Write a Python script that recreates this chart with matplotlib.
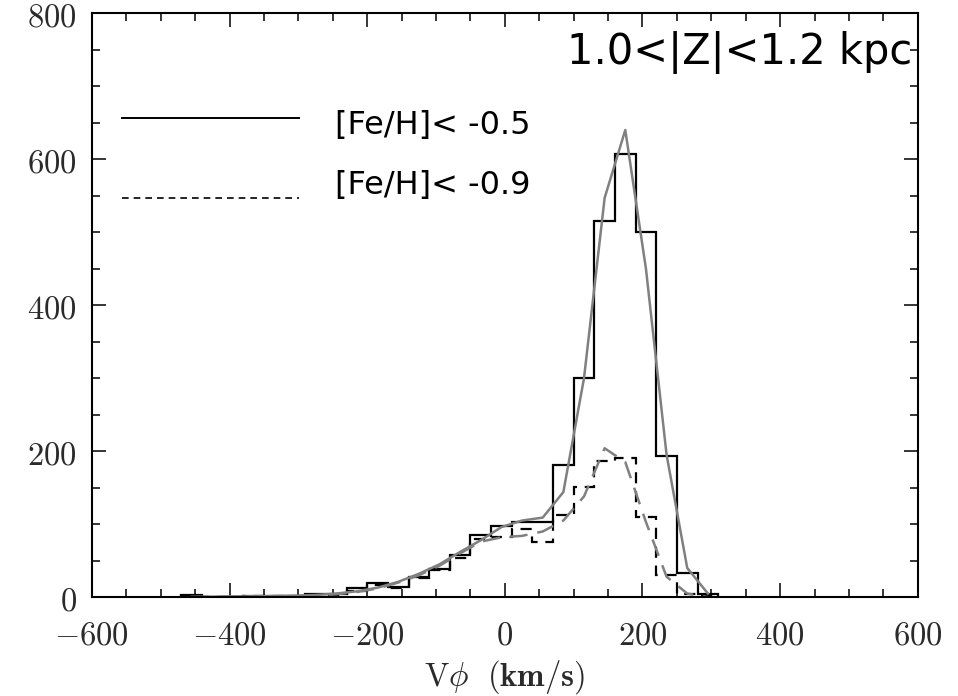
import numpy as np
import matplotlib.pyplot as plt
from matplotlib.ticker import MultipleLocator, FuncFormatter

plt.rcParams['mathtext.fontset'] = 'cm'

# bin edges of the V_phi histograms (km/s)
bin_edges = [-470, -440, -410, -380, -350, -320, -290, -260, -230, -200,
             -170, -140, -110, -80, -50, -20, 10, 40, 70, 100,
             130, 160, 190, 220, 250, 280, 310]
# counts, [Fe/H] < -0.5
counts_05 = [3, 0, 0, 1, 1, 2, 4, 4, 12, 20,
             14, 28, 39, 58, 85, 97, 103, 103, 181, 300,
             516, 607, 500, 193, 33, 5]
# counts, [Fe/H] < -0.9
counts_09 = [2, 0, 0, 1, 1, 1, 3, 3, 9, 17,
             13, 26, 37, 54, 80, 83, 94, 75, 113, 151,
             186, 190, 110, 30, 5, 1]

# model curves at bin centres
bin_centres = [-455, -425, -395, -365, -335, -305, -275, -245, -215, -185,
               -155, -125, -95, -65, -35, -5, 25, 55, 85, 115,
               145, 175, 205, 235, 265, 295]
fit_05 = [0.5, 0.5, 1, 1, 1.5, 2, 3, 5, 8, 13,
          21, 32, 45, 62, 78, 96, 105, 109, 144, 300,
          547, 640, 450, 195, 40, 5]
fit_09 = [0, 0.5, 0.5, 1, 1, 1.5, 2, 4, 7, 12,
          20, 30, 43, 60, 76, 82, 84, 90, 105, 138,
          204, 185, 103, 28, 5, 0]

fig = plt.figure(figsize=(9.58, 6.96), dpi=100)
ax = fig.add_axes([0.096, 0.142, 0.862, 0.839])

ax.plot(bin_centres, fit_05, color='#808080', lw=1.8)
ax.plot(bin_centres, fit_09, color='#808080', lw=1.8, ls=(0, (7, 4)))
ax.stairs(counts_05, bin_edges, color='black', lw=1.6)
ax.stairs(counts_09, bin_edges, color='black', lw=1.6, ls=(0, (5, 3.5)))

ax.set_xlim(-600, 600)
ax.set_ylim(0, 800)
ax.xaxis.set_major_locator(MultipleLocator(200))
ax.xaxis.set_minor_locator(MultipleLocator(50))
ax.yaxis.set_major_locator(MultipleLocator(200))
ax.yaxis.set_minor_locator(MultipleLocator(50))
fmt = FuncFormatter(lambda v, p: r'$%d$' % v)
ax.xaxis.set_major_formatter(fmt)
ax.yaxis.set_major_formatter(fmt)
ax.tick_params(which='both', direction='in', top=True, right=True, width=1.1, colors='black')
ax.tick_params(which='major', length=10)
ax.tick_params(which='minor', length=5.5)
ax.tick_params(axis='x', labelsize=23.5, pad=15, labelcolor='#2a2a2a')
ax.tick_params(axis='y', labelsize=23.5, pad=11, labelcolor='#2a2a2a')
for s in ax.spines.values():
    s.set_linewidth(1.5)

ax.set_xlabel(r'$\mathrm{V}\phi\ \ (\mathbf{km/s})$', fontsize=23.5, color='#2a2a2a')
ax.xaxis.set_label_coords(0.5, -0.105)

# legend drawn by hand, as in the original figure
ax.plot([0.036, 0.251], [0.820, 0.820], transform=ax.transAxes, color='black', lw=1.4)
ax.plot([0.036, 0.251], [0.683, 0.683], transform=ax.transAxes, color='black', lw=1.2,
        ls=(0, (4, 3)))
ax.text(0.294, 0.807, '[Fe/H]< -0.5', transform=ax.transAxes, fontsize=23,
        family='DejaVu Sans', va='center', ha='left')
ax.text(0.294, 0.705, '[Fe/H]< -0.9', transform=ax.transAxes, fontsize=23,
        family='DejaVu Sans', va='center', ha='left')
ax.text(0.993, 0.933, '1.0<|Z|<1.2 kpc', transform=ax.transAxes, fontsize=30,
        family='DejaVu Sans', va='center', ha='right')

fig.savefig('out.png', dpi=100)
